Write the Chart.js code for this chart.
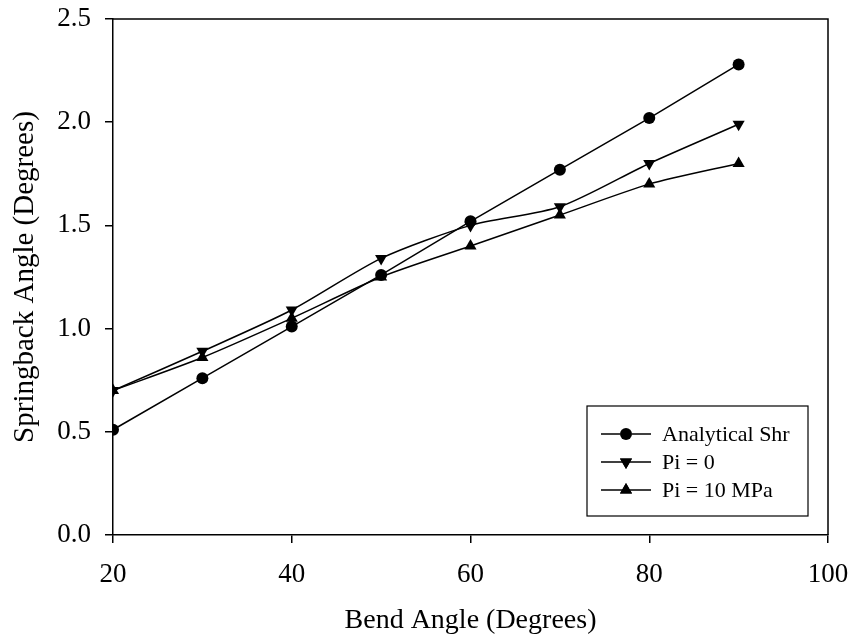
<!DOCTYPE html>
<html>
<head>
<meta charset="utf-8">
<script src="https://cdn.jsdelivr.net/npm/chart.js@4/dist/chart.umd.min.js"></script>
<style>
  html, body { margin: 0; padding: 0; background: #fff; }
  #wrap { width: 849px; height: 636px; }
</style>
</head>
<body>
<div id="wrap"><canvas id="chart" width="849" height="636"></canvas></div>
<script>
// data
const bendAngles = [20, 30, 40, 50, 60, 70, 80, 90];
const analyticalShr = [0.51, 0.76, 1.01, 1.26, 1.52, 1.77, 2.02, 2.28];
const piZero = [0.70, 0.89, 1.09, 1.34, 1.50, 1.59, 1.80, 1.99];
const piTen = [0.70, 0.86, 1.05, 1.25, 1.40, 1.55, 1.70, 1.80];
const seriesNames = ['Analytical Shr', 'Pi = 0', 'Pi = 10 MPa'];

const serif = "'Liberation Serif', 'Times New Roman', serif";

function toPoints(vals) {
    return bendAngles.map((x, i) => ({ x: x, y: vals[i] }));
}

function makeSet(label, vals, style, rot, tension) {
    return {
        label: label,
        data: toPoints(vals),
        borderColor: '#000',
        backgroundColor: '#000',
        borderWidth: 1.5,
        pointStyle: style,
        pointRotation: rot,
        pointRadius: style === 'circle' ? 6 : 7,
        pointBorderWidth: 0,
        tension: tension
    };
}

// frame on top/right + legend box inside plot
const framePlugin = {
    id: 'frame',
    afterDatasetsDraw(chart) {
        const { ctx, chartArea: a } = chart;
        ctx.save();
        ctx.strokeStyle = '#000';
        ctx.lineWidth = 1.5;
        ctx.beginPath();
        ctx.moveTo(a.left, a.top);
        ctx.lineTo(a.right, a.top);
        ctx.lineTo(a.right, a.bottom);
        ctx.stroke();

        // legend
        const bx = 587, by = 406, bw = 221, bh = 110;
        ctx.fillStyle = '#fff';
        ctx.fillRect(bx, by, bw, bh);
        ctx.lineWidth = 1.2;
        ctx.strokeRect(bx, by, bw, bh);
        ctx.font = '22px ' + serif;
        ctx.textBaseline = 'middle';
        chart.data.datasets.forEach((ds, i) => {
            const y = 434 + i * 28;
            ctx.lineWidth = 1.5;
            ctx.beginPath();
            ctx.moveTo(601, y);
            ctx.lineTo(651, y);
            ctx.stroke();
            Chart.helpers.drawPoint(ctx, {
                pointStyle: ds.pointStyle,
                rotation: ds.pointRotation,
                radius: ds.pointRadius,
                borderWidth: 0
            }, 626, y);
            ctx.fillStyle = '#000';
            ctx.fill();
            ctx.fillText(ds.label, 662, y + 1);
        });
        ctx.restore();
    }
};

new Chart(document.getElementById('chart'), {
    type: 'line',
    data: {
        datasets: [
            makeSet(seriesNames[0], analyticalShr, 'circle', 0, 0),
            makeSet(seriesNames[1], piZero, 'triangle', 180, 0.25),
            makeSet(seriesNames[2], piTen, 'triangle', 0, 0.25)
        ]
    },
    options: {
        responsive: false,
        animation: false,
        layout: { padding: { top: 19, right: 21, left: 0, bottom: 0 } },
        plugins: {
            legend: { display: false },
            tooltip: { enabled: false }
        },
        scales: {
            x: {
                type: 'linear',
                min: 20,
                max: 100,
                ticks: { stepSize: 20, color: '#000', font: { family: serif, size: 27 }, padding: 16 },
                grid: { drawOnChartArea: false, drawTicks: true, tickLength: 8, color: '#000', lineWidth: 1.5 },
                border: { display: true, color: '#000', width: 1.5 },
                title: { display: true, text: 'Bend Angle (Degrees)', color: '#000', font: { family: serif, size: 28, lineHeight: 0.8 } },
                afterFit(scale) {
                    scale.height = 101;
                    scale.paddingLeft = 0;
                    scale.paddingRight = 0;
                }
            },
            y: {
                min: 0,
                max: 2.5,
                ticks: {
                    stepSize: 0.5,
                    color: '#000',
                    font: { family: serif, size: 27 },
                    padding: 14,
                    callback: v => v.toFixed(1)
                },
                grid: { drawOnChartArea: false, drawTicks: true, tickLength: 8, color: '#000', lineWidth: 1.5 },
                border: { display: true, color: '#000', width: 1.5 },
                title: { display: true, text: 'Springback Angle (Degrees)', color: '#000', font: { family: serif, size: 29, lineHeight: 1.5 } },
                afterFit(scale) {
                    scale.width = 113;
                    scale.paddingTop = 0;
                    scale.paddingBottom = 0;
                }
            }
        }
    },
    plugins: [framePlugin]
});
</script>
</body>
</html>
